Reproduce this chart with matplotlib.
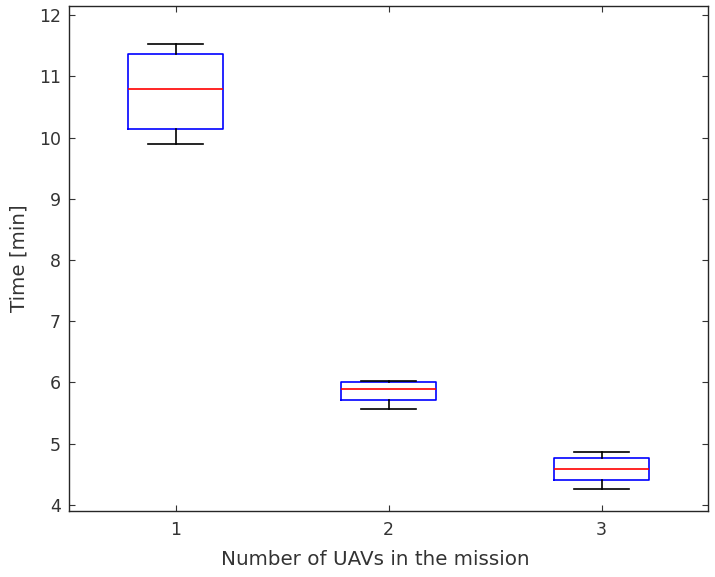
import matplotlib
matplotlib.use("Agg")
import matplotlib.pyplot as plt

categories = ["1", "2", "3"]
whislo = [9.90, 5.56, 4.26]
q1 = [10.14, 5.71, 4.40]
med = [10.79, 5.90, 4.59]
q3 = [11.37, 6.00, 4.77]
whishi = [11.53, 6.02, 4.86]

plt.rcParams['font.family'] = ['DejaVu Sans']
fig = plt.figure(figsize=(7.15, 5.77), dpi=100)
ax = fig.add_axes([69/715, 1-511/577, 639/715, 505/577])

stats = []
for i, c in enumerate(categories):
    stats.append(dict(label=c, whislo=whislo[i], q1=q1[i], med=med[i], q3=q3[i], whishi=whishi[i], fliers=[]))

ax.bxp(stats, positions=[1, 2, 3], widths=0.45, showfliers=False,
       boxprops=dict(color='#0000ff', linewidth=1.2),
       medianprops=dict(color='#ff0000', linewidth=1.2),
       whiskerprops=dict(color='black', linewidth=1.2, linestyle='-'),
       capprops=dict(color='black', linewidth=1.2),
       capwidths=0.26)

ax.set_xlim(0.5, 3.5)
ax.set_ylim(3.9, 12.15)
ax.set_yticks(range(4, 13))
ax.set_xticks([1, 2, 3])
ax.set_xticklabels(categories)
gray = '#333333'
ax.tick_params(direction='in', top=True, right=True, labelsize=12.5, colors=gray, length=4)
ax.tick_params(axis='x', pad=7)
ax.tick_params(axis='y', pad=6)
for s in ax.spines.values():
    s.set_color('#262626')
    s.set_linewidth(1.0)
ax.set_xlabel("Number of UAVs in the mission", fontsize=14.3, color=gray, labelpad=8)
ax.xaxis.label.set_x(0.48)
ax.set_ylabel("Time [min]", fontsize=14.3, color=gray, labelpad=7)

fig.savefig("out.png", dpi=100)
